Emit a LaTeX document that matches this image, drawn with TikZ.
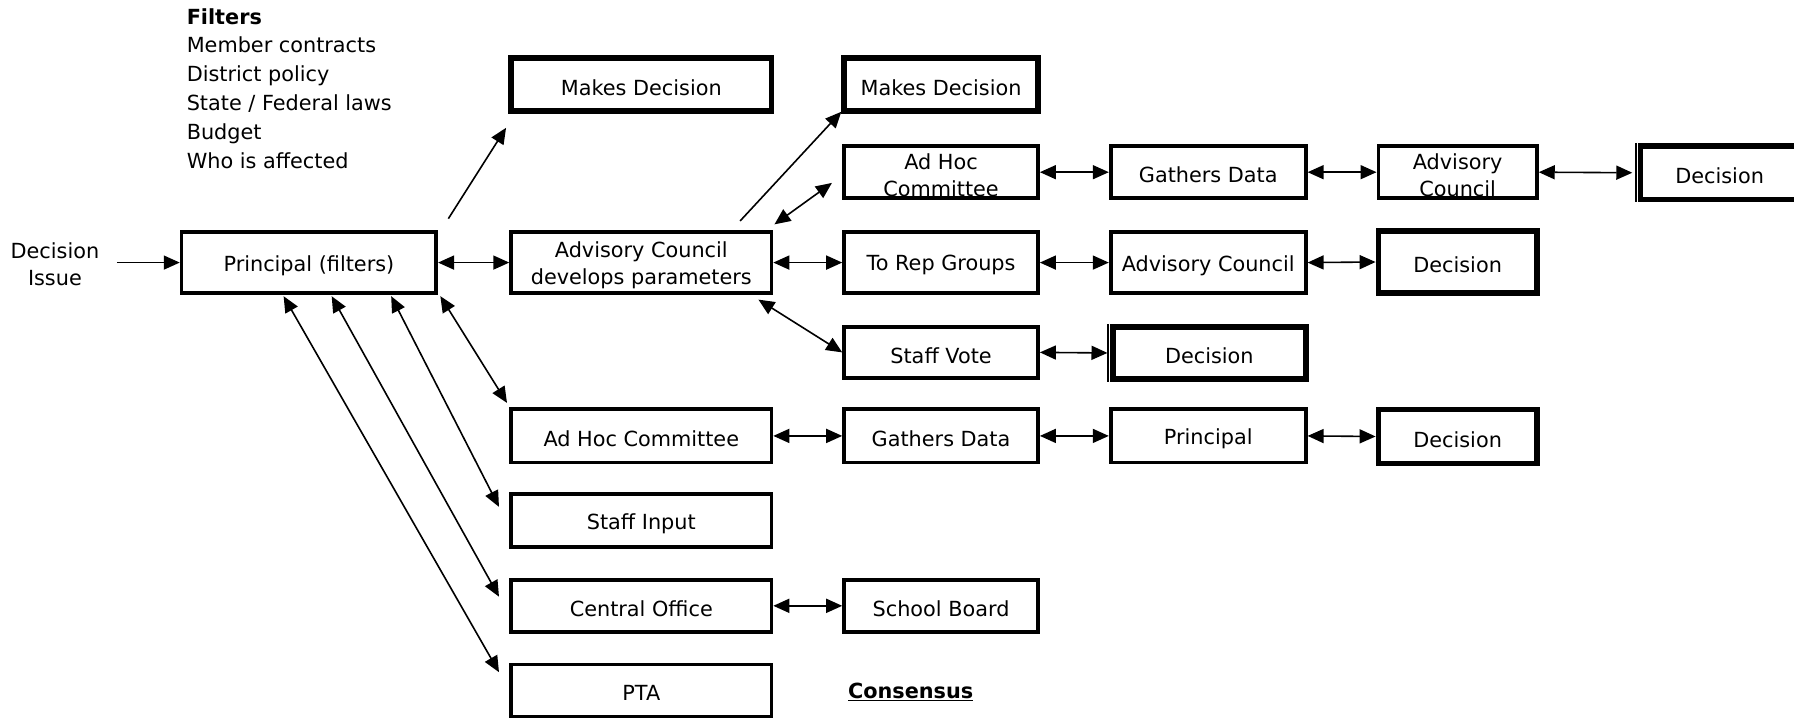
\documentclass[tikz,border=0pt]{standalone}
\usepackage{fontspec}
\setmainfont{DejaVu Sans}
\usetikzlibrary{arrows.meta}
\newcommand\fs{\fontsize{15.6}{20.6}\selectfont}
\newcommand\fsf{\fontsize{15.6}{21.6}\selectfont}
\newcommand\bx[7]{%
  \node[#1, minimum width={(#4-#2)*0.858pt-3pt}, minimum height={(#5-#3)*0.858pt-3pt}] (#6) at ({(#2+#4)/2},{(#3+#5)/2}) {};
  \node[btext] (#6-t) at ([shift={(0,2.5)}]#6.center) {#7};}
\tikzset{
  box/.style={draw, line width=2.8pt, inner sep=0pt},
  tbox/.style={box, line width=4.2pt},
  btext/.style={inner sep=0pt, align=center, font=\fs},
  arr/.style={line width=1.2pt, -{Triangle[length=12pt,width=10.5pt]}},
  darr/.style={line width=1.2pt, {Triangle[length=12pt,width=10.5pt]}-{Triangle[length=12pt,width=10.5pt]}},
  edgeline/.style={line width=1.4pt},
}
\begin{document}
\begin{tikzpicture}[x=0.858pt,y=-0.858pt]
\useasboundingbox[fill=white] (0,0) rectangle (1568,628);
% text
\node[anchor=north west, inner sep=0pt, align=left, font=\fsf] (filters) at (163,7)
  {\textbf{Filters}\\Member contracts\\District policy\\State / Federal laws\\Budget\\Who is affected};
\node[font=\fs, align=center, inner sep=0pt] (issue) at (48,231) {Decision\\Issue};
\node[anchor=west, inner sep=0pt, font=\fs\bfseries] (cons) at (741,605) {\underline{Consensus}};
% boxes
\bx{box}{157}{201}{383}{258}{princ}{Principal (filters)}
\bx{tbox}{445}{49}{676}{99}{mdA}{Makes Decision}
\bx{box}{445}{201}{676}{258}{adv}{Advisory Council\\develops parameters}
\bx{tbox}{736}{49}{909}{99}{mdB}{Makes Decision}
\bx{box}{736}{126}{909}{175}{ahA}{Ad Hoc\\Committee}
\bx{box}{736}{201}{909}{258}{rep}{To Rep Groups}
\bx{box}{736}{284}{909}{332}{vote}{Staff Vote}
\bx{box}{969}{126}{1143}{175}{gdA}{Gathers Data}
\bx{box}{1203}{126}{1345}{175}{acA}{Advisory\\Council}
\bx{tbox}{1432}{126}{1574}{176}{decA}{Decision}
\bx{box}{969}{201}{1143}{258}{acB}{Advisory Council}
\bx{tbox}{1203}{200}{1345}{258}{decB}{Decision}
\bx{tbox}{971}{284}{1143}{333}{decC}{Decision}
\bx{box}{445}{356}{676}{406}{ahB}{Ad Hoc Committee}
\bx{box}{736}{356}{909}{406}{gdB}{Gathers Data}
\bx{box}{969}{356}{1143}{406}{prB}{Principal}
\bx{tbox}{1203}{356}{1345}{407}{decD}{Decision}
\bx{box}{445}{430}{676}{480}{input}{Staff Input}
\bx{box}{445}{505}{676}{554}{central}{Central Office}
\bx{box}{736}{505}{909}{554}{board}{School Board}
\bx{box}{445}{579}{676}{628}{pta}{PTA}
\draw[edgeline] ([shift={(-2,0)}]decC.north west) -- ([shift={(-2,0)}]decC.south west);
\draw[edgeline] ([shift={(-1.2,0)}]decA.north west) -- ([shift={(-1.2,0)}]decA.south west);
% connectors
\draw[arr, shorten <=13pt] (issue.east |- princ.west) -- (princ.west);
\draw[arr] ([shift={(9,-10)}]princ.north east) -- ([shift={(-2,12)}]mdA.south west);
\draw[darr] (princ.east) -- (adv.west);
\draw[arr] ([shift={(-29,-8)}]adv.north east) -- ([shift={(0,-2)}]mdB.south west);
\draw[darr] ([shift={(1,-5)}]adv.north east) -- ([shift={(-9,-15)}]ahA.south west);
\draw[darr] (adv.east) -- (rep.west);
\draw[darr] ([shift={(-13,4)}]adv.south east) -- (vote.west);
\draw[darr] (ahA.east) -- (gdA.west);
\draw[darr] (gdA.east) -- (acA.west);
\draw[darr, shorten >=4pt] (acA.east) -- (decA.west);
\draw[darr] (rep.east) -- (acB.west);
\draw[darr] (acB.east) -- (decB.west);
\draw[darr, shorten >=2pt] (vote.east) -- (decC.west);
\draw[darr] ([shift={(2,1)}]princ.south east) -- ([shift={(-2,-4)}]ahB.north west);
\draw[darr] (ahB.east) -- (gdB.west);
\draw[darr] (gdB.east) -- (prB.west);
\draw[darr] (prB.east) -- (decD.west);
\draw[darr] ([shift={(-41,1)}]princ.south east) -- ([shift={(-9,-12)}]input.west);
\draw[darr] ([shift={(-93,1)}]princ.south east) -- ([shift={(-9,-8)}]central.west);
\draw[darr] ([shift={(-135,1)}]princ.south east) -- ([shift={(-9,-16)}]pta.west);
\draw[darr] (central.east) -- (board.west);
\end{tikzpicture}
\end{document}
